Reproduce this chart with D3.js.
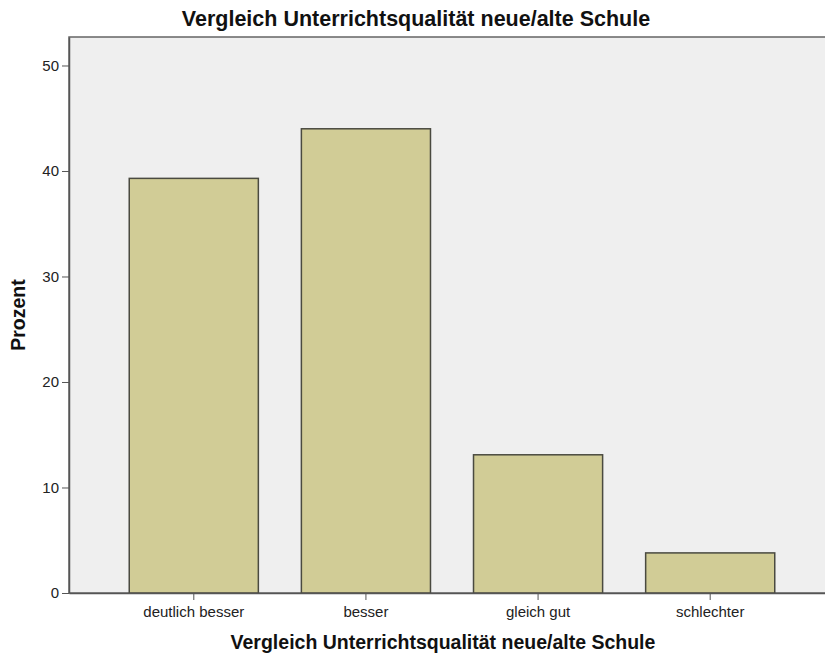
<!DOCTYPE html>
<html lang="de">
<head>
<meta charset="UTF-8">
<script src="https://d3js.org/d3.v7.min.js"></script>
<title>Vergleich Unterrichtsqualität</title>
<style>
    * { font-family: 'Liberation Sans', Arial, sans-serif; }
    body { margin: 0; background: #fff; }
    .tick text { font-size: 15px; fill: #222; }
    .axis path, .axis line { stroke: #555; }
    .title { font-size: 21.5px; font-weight: bold; fill: #111; }
    .label { font-size: 19.5px; font-weight: bold; fill: #111; }
</style>
</head>
<body>
<svg id="chart"></svg>
<script>
let categories = ['deutlich besser', 'besser', 'gleich gut', 'schlechter']
let percent = [39.3, 44.0, 13.1, 3.8]
let yTicks = [0, 10, 20, 30, 40, 50]

let width = 825
let height = 657
let plotLeft = 69
let plotRight = 835
let plotTop = 37
let plotBottom = 593

let svg = d3.select('#chart')
    .attr('width', width)
    .attr('height', height)

let xScale = d3.scaleBand()
    .domain(categories)
    .range([plotLeft, plotRight])
    .paddingInner(0.25)
    .paddingOuter(0.35)

let yScale = d3.scaleLinear()
    .domain([0, 52.7])
    .range([plotBottom, plotTop])

// plot background
svg.append('rect')
    .attr('x', plotLeft)
    .attr('y', plotTop)
    .attr('width', plotRight - plotLeft)
    .attr('height', plotBottom - plotTop)
    .attr('fill', '#efefef')
    .attr('stroke', '#666')
    .attr('stroke-width', 1.5)

svg.selectAll('.bar')
    .data(percent)
    .enter()
    .append('rect')
    .attr('class', 'bar')
    .attr('x', (d, i) => xScale(categories[i]))
    .attr('y', d => yScale(d))
    .attr('width', xScale.bandwidth())
    .attr('height', d => plotBottom - yScale(d))
    .attr('fill', '#d1cc96')
    .attr('stroke', '#4a4a40')
    .attr('stroke-width', 1.5)

let yAxis = d3.axisLeft(yScale)
    .tickValues(yTicks)
    .tickSize(7)
    .tickSizeOuter(0)
    .tickPadding(3)

svg.append('g')
    .attr('class', 'axis')
    .attr('transform', 'translate(' + plotLeft + ',0)')
    .call(yAxis)
    .call(g => g.select('.domain').attr('stroke-width', 1.5))

let xAxis = d3.axisBottom(xScale)
    .tickSize(7)
    .tickSizeOuter(0)
    .tickPadding(6)

svg.append('g')
    .attr('class', 'axis')
    .attr('transform', 'translate(0,' + plotBottom + ')')
    .call(xAxis)
    .call(g => g.select('.domain').attr('stroke-width', 1.5))

svg.append('text')
    .attr('class', 'title')
    .attr('x', 416)
    .attr('y', 26)
    .attr('text-anchor', 'middle')
    .text('Vergleich Unterrichtsqualität neue/alte Schule')

svg.append('text')
    .attr('class', 'label')
    .attr('x', 443)
    .attr('y', 649)
    .attr('text-anchor', 'middle')
    .text('Vergleich Unterrichtsqualität neue/alte Schule')

svg.append('text')
    .attr('class', 'label')
    .attr('transform', 'translate(25,315) rotate(-90)')
    .attr('text-anchor', 'middle')
    .text('Prozent')
</script>
</body>
</html>
